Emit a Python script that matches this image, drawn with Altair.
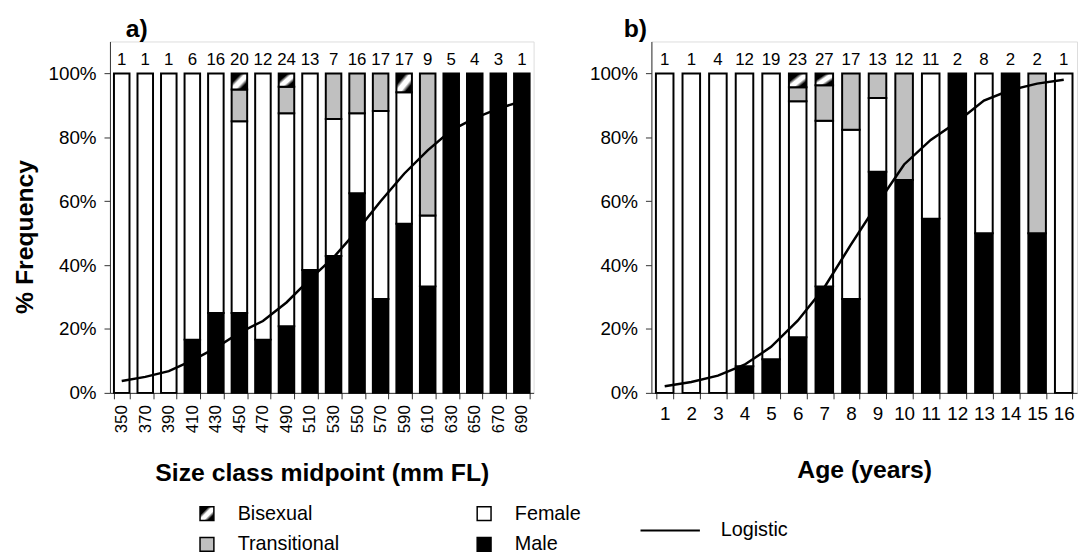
import altair as alt
import pandas as pd

# ---------------- data ----------------
size_classes = [350, 370, 390, 410, 430, 450, 470, 490, 510, 530, 550, 570, 590, 610, 630, 650, 670, 690]
n_size = [1, 1, 1, 6, 16, 20, 12, 24, 13, 7, 16, 17, 17, 9, 5, 4, 3, 1]
male_size = [0, 0, 0, 1, 4, 5, 2, 5, 5, 3, 10, 5, 9, 3, 5, 4, 3, 1]
female_size = [1, 1, 1, 5, 12, 12, 10, 16, 8, 3, 4, 10, 7, 2, 0, 0, 0, 0]
trans_size = [0, 0, 0, 0, 0, 2, 0, 2, 0, 1, 2, 2, 0, 4, 0, 0, 0, 0]
bisex_size = [0, 0, 0, 0, 0, 1, 0, 1, 0, 0, 0, 0, 1, 0, 0, 0, 0, 0]
logistic_size = [0.037, 0.050, 0.068, 0.102, 0.141, 0.188, 0.225, 0.283, 0.356, 0.424,
                 0.508, 0.600, 0.686, 0.759, 0.822, 0.860, 0.890, 0.913]

ages = [1, 2, 3, 4, 5, 6, 7, 8, 9, 10, 11, 12, 13, 14, 15, 16]
n_age = [1, 1, 4, 12, 19, 23, 27, 17, 13, 12, 11, 2, 8, 2, 2, 1]
male_age = [0, 0, 0, 1, 2, 4, 9, 5, 9, 8, 6, 2, 4, 2, 1, 0]
female_age = [1, 1, 4, 11, 17, 17, 14, 9, 3, 0, 5, 0, 4, 0, 0, 1]
trans_age = [0, 0, 0, 0, 0, 1, 3, 3, 1, 4, 0, 0, 0, 0, 1, 0]
bisex_age = [0, 0, 0, 0, 0, 1, 1, 0, 0, 0, 0, 0, 0, 0, 0, 0]
logistic_age = [0.021, 0.034, 0.054, 0.088, 0.144, 0.226, 0.330, 0.464, 0.592, 0.715,
                0.792, 0.849, 0.915, 0.948, 0.968, 0.980]

stack_order = ["Male", "Female", "Transitional", "Bisexual"]
legend_order = ["Bisexual", "Transitional", "Female", "Male"]

FONT = "Liberation Sans"
GRAD = ("{gradient: 'linear', x1: 0, y1: 0, x2: 1, y2: 1, stops: ["
        "{offset: 0, color: 'black'}, {offset: 0.3, color: 'black'}, "
        "{offset: 0.45, color: 'white'}, {offset: 0.62, color: 'white'}, "
        "{offset: 0.78, color: 'black'}, {offset: 1, color: 'black'}]}")


def long_table(xs, male, female, trans, bisex):
    rows = []
    for i, x in enumerate(xs):
        for k, vals in enumerate([male, female, trans, bisex]):
            if vals[i] > 0:
                rows.append({"x": x, "sex": stack_order[k], "count": vals[i], "k": k})
    return pd.DataFrame(rows)


fill_scale = alt.Scale(domain=legend_order,
                       range=[{"expr": GRAD}, "#C0C0C0", "white", "black"])
fill_legend = alt.Legend(title=None, orient="none", legendX=88, legendY=467,
                         columns=2, symbolType="square", symbolSize=196,
                         symbolStrokeColor="black", symbolStrokeWidth=1.5,
                         symbolOpacity=1, labelFontSize=20, labelFont=FONT,
                         labelColor="black", labelOffset=21, columnPadding=136,
                         rowPadding=11, padding=0)
stroke_scale = alt.Scale(domain=["Logistic"], range=["black"])
stroke_legend = alt.Legend(title=None, orient="none", legendX=535, legendY=463,
                           symbolType="stroke", symbolSize=3600, symbolStrokeWidth=2,
                           labelFontSize=20, labelFont=FONT, labelColor="black",
                           labelOffset=20, padding=0)


def panel(xs, n, male, female, trans, bisex, logistic, width, xtitle, ytitle,
          label_angle, label_size, title_text, title_dx, title_pad):
    bars_df = long_table(xs, male, female, trans, bisex)
    n_df = pd.DataFrame({"x": xs, "n": n})
    line_df = pd.DataFrame({"x": xs, "p": logistic, "lab": ["Logistic"] * len(xs)})

    xscale = alt.Scale(paddingInner=0.34, paddingOuter=0.17)
    xaxis = alt.Axis(title=xtitle, tickBand="extent", labelAngle=label_angle,
                     labelFontSize=label_size, labelFont=FONT, labelColor="black",
                     labelPadding=6, tickSize=6, tickColor="#333", domainColor="#333",
                     titleFontSize=25, titleFont=FONT, titleFontWeight="bold",
                     titleColor="black", titlePadding=title_pad, grid=False)
    yscale = alt.Scale(domain=[0, 1.1], nice=False)
    yaxis = alt.Axis(title=ytitle, values=[0, 0.2, 0.4, 0.6, 0.8, 1.0], format=".0%",
                     labelFontSize=19, labelFont=FONT, labelColor="black",
                     labelPadding=8, tickSize=6, tickColor="#333", domainColor="#333",
                     titleFontSize=25, titleFont=FONT, titleFontWeight="bold",
                     titleColor="black", titleX=-86, titleY=197, titleBaseline="middle",
                     titleAlign="center", grid=False)

    bars = alt.Chart(bars_df).mark_bar(stroke="black", strokeWidth=2).encode(
        x=alt.X("x:O", scale=xscale, axis=xaxis),
        y=alt.Y("count:Q", stack="normalize", scale=yscale, axis=yaxis),
        fill=alt.Fill("sex:N", scale=fill_scale, legend=fill_legend),
        order=alt.Order("k:Q", sort="ascending"),
    )
    line = alt.Chart(line_df).mark_line(strokeWidth=2.5).encode(
        x=alt.X("x:O", scale=xscale, axis=xaxis),
        y=alt.Y("p:Q", scale=yscale, axis=yaxis),
        stroke=alt.Stroke("lab:N", scale=stroke_scale, legend=stroke_legend),
    )
    text = alt.Chart(n_df).mark_text(baseline="alphabetic", dy=-9, fontSize=17,
                                     font=FONT, color="black").encode(
        x=alt.X("x:O", scale=xscale, axis=xaxis),
        y=alt.YDatum(1.0, scale=yscale, axis=yaxis),
        text="n:Q",
    )
    return alt.layer(bars, line, text).properties(
        width=width, height=355,
        title=alt.TitleParams(title_text, anchor="start", frame="group", dx=title_dx,
                              fontSize=25, font=FONT, fontWeight="bold", color="black",
                              offset=0),
    )


panel_a = panel(size_classes, n_size, male_size, female_size, trans_size, bisex_size,
                logistic_size, 428, "Size class midpoint (mm FL)", "% Frequency",
                -90, 17, "a)", 16, 28)
panel_b = panel(ages, n_age, male_age, female_age, trans_age, bisex_age,
                logistic_age, 430, "Age (years)", None, 0, 19, "b)", -28, 35)

chart = alt.hconcat(panel_a, panel_b, spacing=119, bounds="flush").properties(
    padding={"left": 4, "top": 5, "right": 2, "bottom": 0}
).configure_view(stroke=None).configure(font=FONT)

chart.save("out.html", embed_options={"renderer": "svg", "actions": False})
